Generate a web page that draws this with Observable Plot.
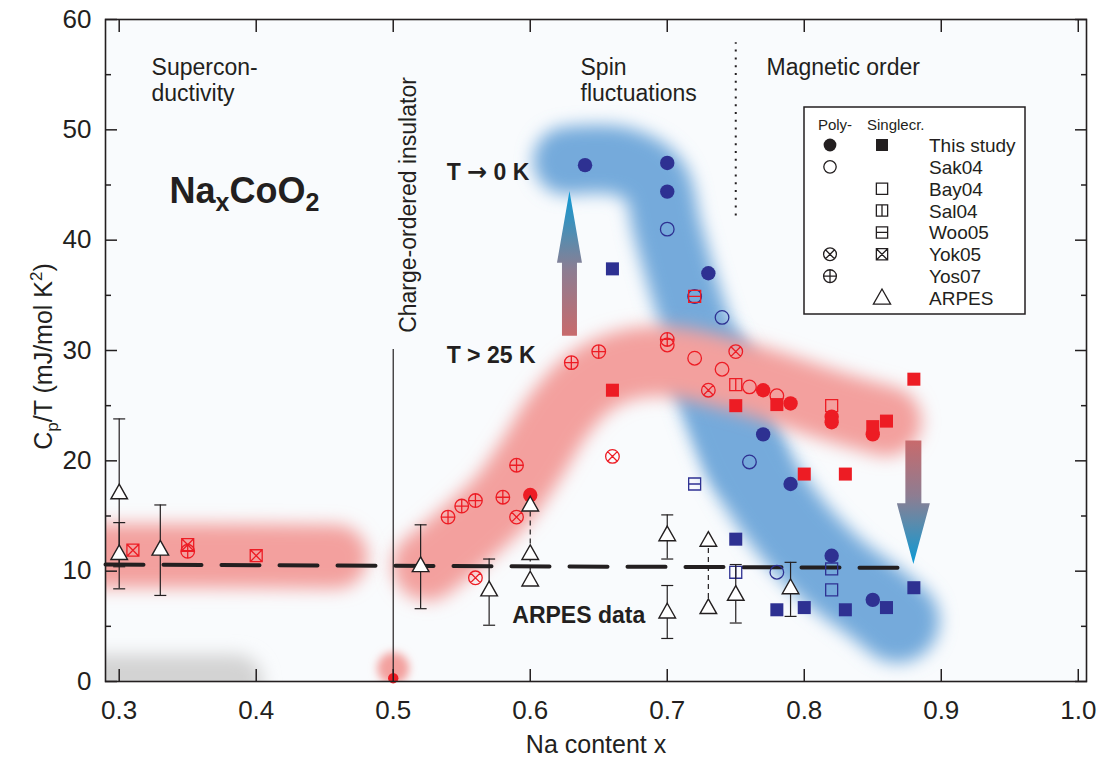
<!DOCTYPE html>
<html><head><meta charset="utf-8">
<script src="https://cdn.jsdelivr.net/npm/d3@7"></script>
<script src="https://cdn.jsdelivr.net/npm/@observablehq/plot@0.6"></script>
<style>
body{margin:0;background:#fff;font-family:"Liberation Sans",Arial,Helvetica,sans-serif;}
#wrap{position:relative;width:1102px;height:765px;overflow:hidden;}
</style></head><body><div id="wrap"></div>
<script>
// ---------- axes ----------
const xTicks = [0.3, 0.4, 0.5, 0.6, 0.7, 0.8, 0.9, 1.0];
const yTicks = [0, 10, 20, 30, 40, 50, 60];
const yMinorTicks = [5, 15, 25, 35, 45, 55];

// ---------- shaded bands (centre lines) ----------
const greyBand = [[0.26, 0], [0.385, 0]];
const chargeOrderBlob = [[0.5, 1.2]];
const redBandLeft = [[0.26, 11.4], [0.36, 11.4], [0.458, 11.3]];
const redBandRight = [[0.525, 10.5], [0.55, 13], [0.58, 16.5], [0.60, 20], [0.62, 24], [0.64, 26.8], [0.665, 28.5], [0.70, 29], [0.757, 27.5], [0.82, 25], [0.86, 23.6]];
const blueBandUpper = [[0.627, 47.2], [0.665, 47.2], [0.69, 45.5], [0.700, 41], [0.714, 35], [0.732, 28.5], [0.758, 20]];
const blueBandLower = [[0.732, 28.5], [0.758, 20], [0.79, 14], [0.821, 10], [0.85, 7.3], [0.868, 5.5]];

// ---------- lines ----------
const chargeOrderLine = [[0.5, 0, 30.1]];
const magneticBoundary = [[0.75, 42.2, 57.9]];
const arpesAverage = [[0.29, 10.6], [0.872, 10.3]];

// ---------- data points (x, Cp/T) ----------
const thisStudyPolyLowT = [[0.64, 46.8], [0.70, 47.0], [0.70, 44.4], [0.73, 37.0], [0.77, 22.4], [0.79, 17.9], [0.82, 11.4], [0.85, 7.4]];
const thisStudyPolyHighT = [[0.60, 16.9], [0.77, 26.4], [0.79, 25.2], [0.82, 24.0], [0.82, 23.5], [0.85, 22.4]];
const thisStudyPolyChargeOrder = [[0.50, 0.3]];
const thisStudySingleLowT = [[0.66, 37.4], [0.75, 12.9], [0.78, 6.5], [0.80, 6.7], [0.83, 6.5], [0.86, 6.7], [0.88, 8.5]];
const thisStudySingleHighT = [[0.66, 26.4], [0.75, 25.0], [0.78, 25.1], [0.80, 18.8], [0.83, 18.8], [0.85, 23.1], [0.86, 23.6], [0.88, 27.4]];
const sak04LowT = [[0.70, 41.0], [0.72, 34.9], [0.74, 33.0], [0.76, 19.9], [0.78, 9.9]];
const sak04HighT = [[0.70, 30.5], [0.72, 29.3], [0.74, 28.3], [0.76, 26.7], [0.78, 25.9]];
const bay04LowT = [[0.82, 10.2], [0.82, 8.3]];
const bay04HighT = [[0.82, 25.0]];
const sal04LowT = [[0.75, 9.9]];
const sal04HighT = [[0.75, 26.9]];
const woo05LowT = [[0.72, 17.9]];
const woo05HighT = [[0.72, 34.9]];
const yok05PolyHighT = [[0.56, 9.4], [0.59, 14.9], [0.66, 20.4], [0.73, 26.4], [0.75, 29.9]];
const yok05SingleHighT = [[0.31, 11.9], [0.35, 12.4], [0.40, 11.4]];
const yos07HighT = [[0.35, 11.8], [0.54, 14.9], [0.55, 15.9], [0.56, 16.4], [0.58, 16.7], [0.59, 19.6], [0.63, 28.9], [0.65, 29.9], [0.70, 31.0]];
const arpesPoints = [[0.30, 17.1], [0.30, 11.6], [0.33, 12.0], [0.52, 10.5], [0.57, 8.3], [0.60, 16.0], [0.60, 11.6], [0.60, 9.2], [0.70, 13.3], [0.70, 6.3], [0.73, 12.8], [0.73, 6.7], [0.75, 7.9], [0.79, 8.5]];
const arpesErrors = [[0.30, 10.4, 23.8], [0.30, 8.4, 14.4], [0.33, 7.8, 16.0], [0.52, 6.6, 14.2], [0.57, 5.1, 11.1], [0.70, 11.1, 15.1], [0.70, 3.9, 8.7], [0.75, 5.3, 10.6], [0.79, 5.9, 10.8]];
const arpesLinks = [[0.60, 9.2, 16.0], [0.73, 6.7, 12.8]];

// ---------- arrows (x, tail, head base, tip) ----------
const arrowData = [[0.629, 31.3, 37.9, 44.4], [0.88, 21.8, 16.1, 10.6]];
const arrowStyle = [{shaft: 7.5, head: 12.5}, {shaft: 8, head: 16.5}];

// ---------- text ----------
const regionLabels = [
  {x: 0.3236, y: 56.6, t: "Supercon-\nductivity"},
  {x: 0.6367, y: 56.6, t: "Spin\nfluctuations"},
  {x: 0.7725, y: 56.6, t: "Magnetic order"}
];
const lowTLabel = [{x: 0.539, y: 46.15, t: "T \u2192 0 K"}];
const boldLabels = [
  {x: 0.539, y: 29.5, t: "T > 25 K"},
  {x: 0.5869, y: 6.0, t: "ARPES data"}
];
const rotatedLabels = [{x: 0.5115, y: 31.6, t: "Charge-ordered insulator"}];
const formulaLabel = [{x: 0.3367, y: 43.34, t: "NaxCoO2"}];

// ---------- legend ----------
const legendRows = ["This study", "Sak04", "Bay04", "Sal04", "Woo05", "Yok05", "Yos07", "ARPES"];
const legendPoly = ["filledCircle", "openCircle", null, null, null, "circleX", "circlePlus", null];
const legendSingle = ["filledSquare", null, "openSquare", "squareV", "squareH", "squareX", null, "triangle"];

// ---------- symbols ----------
const RED = "#ed1c24", BLUE = "#2e3192", INK = "#231f20";
function sym(fn) { return {draw(c, size) { fn(c, Math.sqrt(size / Math.PI)); }}; }
const symCircle = sym((c, r) => { c.moveTo(r, 0); c.arc(0, 0, r, 0, 2 * Math.PI); });
const symSquare = sym((c, r) => { const s = r * 0.88; c.rect(-s, -s, 2 * s, 2 * s); });
const symCircleX = sym((c, r) => { c.moveTo(r, 0); c.arc(0, 0, r, 0, 2 * Math.PI); const d = r * 0.707; c.moveTo(-d, -d); c.lineTo(d, d); c.moveTo(-d, d); c.lineTo(d, -d); });
const symCirclePlus = sym((c, r) => { c.moveTo(r, 0); c.arc(0, 0, r, 0, 2 * Math.PI); c.moveTo(-r, 0); c.lineTo(r, 0); c.moveTo(0, -r); c.lineTo(0, r); });
const symSquareX = sym((c, r) => { const s = r * 0.88; c.rect(-s, -s, 2 * s, 2 * s); c.moveTo(-s, -s); c.lineTo(s, s); c.moveTo(-s, s); c.lineTo(s, -s); });
const symSquareV = sym((c, r) => { const s = r * 0.88; c.rect(-s, -s, 2 * s, 2 * s); c.moveTo(0, -s); c.lineTo(0, s); });
const symSquareH = sym((c, r) => { const s = r * 0.88; c.rect(-s, -s, 2 * s, 2 * s); c.moveTo(-s, 0); c.lineTo(s, 0); });
const symTriangle = sym((c, r) => { c.moveTo(0, -r * 1.05); c.lineTo(r, r * 0.72); c.lineTo(-r, r * 0.72); c.closePath(); });
const symCap = sym((c, r) => { c.moveTo(-r, 0); c.lineTo(r, 0); });

const X = d => d[0], Y = d => d[1];
const filled = (data, symbol, color, r) => Plot.dot(data, {x: X, y: Y, symbol, r, fill: color, stroke: "none"});
const open = (data, symbol, color, r) => Plot.dot(data, {x: X, y: Y, symbol, r, fill: "none", stroke: color, strokeWidth: 1.3});
const bandLine = (data, color, w, tag, clip) => Plot.line(data, {x: X, y: Y, stroke: color, strokeWidth: w, curve: "catmull-rom", strokeLinecap: "round", strokeLinejoin: "round", clip: !!clip, ariaDescription: tag});
const fmt = d3.format(".1f");
const FONT = '"Liberation Sans", Arial, Helvetica, sans-serif';

const plot = Plot.plot({
  width: 1102, height: 765,
  marginLeft: 105, marginRight: 16, marginTop: 19, marginBottom: 84,
  x: {domain: [0.29, 1.006]},
  y: {domain: [0, 60]},
  style: {fontFamily: FONT, fontSize: "23px", color: INK, background: "#ffffff", overflow: "visible"},
  marks: [
    Plot.frame({fill: "#f9fbfd", stroke: "none"}),
    bandLine(greyBand, "#d3d3d3", 54, "soft-grey", true),
    Plot.dot(chargeOrderBlob, {x: X, y: Y, r: 16, fill: "#f3a09e", clip: true, ariaDescription: "soft-blob"}),
    bandLine(blueBandUpper, "#74aadb", 68, "soft-blue1"),
    bandLine(blueBandLower, "#74aadb", 84, "soft-blue2"),
    bandLine(redBandLeft, "#f3a09e", 64, "soft-red1", true),
    bandLine(redBandRight, "#f3a09e", 70, "soft-red2"),
    Plot.ruleX(chargeOrderLine, {x: X, y1: d => d[1], y2: d => d[2], stroke: INK, strokeWidth: 1.2}),
    Plot.ruleX(magneticBoundary, {x: X, y1: d => d[1], y2: d => d[2], stroke: INK, strokeWidth: 2, strokeDasharray: "2,5.8"}),
    Plot.line(arpesAverage, {x: X, y: Y, stroke: INK, strokeWidth: 4, strokeDasharray: "38,20"}),
    // low-T (blue)
    open(sak04LowT, symCircle, BLUE, 6.8),
    open(bay04LowT, symSquare, BLUE, 6.8),
    open(sal04LowT, symSquareV, BLUE, 6.8),
    open(woo05LowT, symSquareH, BLUE, 6.8),
    filled(thisStudyPolyLowT, symCircle, BLUE, 7.2),
    filled(thisStudySingleLowT, symSquare, BLUE, 7.4),
    // high-T (red)
    open(sak04HighT, symCircle, RED, 6.8),
    open(bay04HighT, symSquare, RED, 6.8),
    open(sal04HighT, symSquareV, RED, 6.8),
    open(woo05HighT, symSquareH, RED, 6.8),
    open(yok05PolyHighT, symCircleX, RED, 6.8),
    open(yok05SingleHighT, symSquareX, RED, 6.8),
    open(yos07HighT, symCirclePlus, RED, 6.8),
    filled(thisStudyPolyHighT, symCircle, RED, 7.2),
    filled(thisStudySingleHighT, symSquare, RED, 7.4),
    filled(thisStudyPolyChargeOrder, symCircle, RED, 5.2),
    // ARPES
    Plot.ruleX(arpesLinks, {x: X, y1: d => d[1], y2: d => d[2], stroke: INK, strokeWidth: 1.2, strokeDasharray: "5,4"}),
    Plot.ruleX(arpesErrors, {x: X, y1: d => d[1], y2: d => d[2], stroke: INK, strokeWidth: 1.2}),
    Plot.dot(arpesErrors, {x: X, y: d => d[1], symbol: symCap, r: 6, stroke: INK, strokeWidth: 1.2, fill: "none"}),
    Plot.dot(arpesErrors, {x: X, y: d => d[2], symbol: symCap, r: 6, stroke: INK, strokeWidth: 1.2, fill: "none"}),
    Plot.dot(arpesPoints, {x: X, y: Y, symbol: symTriangle, r: 8.3, fill: "white", stroke: INK, strokeWidth: 1.4}),
    // text
    Plot.text(regionLabels, {x: "x", y: "y", text: "t", textAnchor: "start", lineAnchor: "top", lineHeight: 1.13, fontSize: 23, fill: INK}),
    Plot.text(lowTLabel, {x: "x", y: "y", text: "t", textAnchor: "start", lineAnchor: "middle", fontSize: 23, fontWeight: "bold", fill: INK, ariaDescription: "lowT"}),
    Plot.text(boldLabels, {x: "x", y: "y", text: "t", textAnchor: "start", lineAnchor: "middle", fontSize: 23, fontWeight: "bold", fill: INK}),
    Plot.text(rotatedLabels, {x: "x", y: "y", text: "t", textAnchor: "start", lineAnchor: "middle", rotate: -90, fontSize: 23, fill: INK}),
    Plot.text(formulaLabel, {x: "x", y: "y", text: "t", textAnchor: "start", lineAnchor: "bottom", fontSize: 36, fontWeight: "bold", fill: INK, ariaDescription: "formula"}),
    Plot.text(["Na content x"], {text: d => d, frameAnchor: "bottom", textAnchor: "middle", lineAnchor: "bottom", dy: 71, fontSize: 25, fill: INK}),
    Plot.text(["Cp/T (mJ/mol K2)"], {text: d => d, frameAnchor: "left", textAnchor: "middle", dx: -62, dy: 6, rotate: -90, fontSize: 25, fill: INK, ariaDescription: "ylabel"}),
    // frame & axes
    Plot.frame({stroke: INK, strokeWidth: 1.6}),
    Plot.axisX({anchor: "bottom", ticks: xTicks, tickFormat: fmt, tickSize: 0, tickPadding: 19, fontSize: 26, label: null}),
    Plot.axisX({anchor: "bottom", ticks: xTicks, tickSize: -12, fill: "none", label: null, strokeWidth: 1.5}),
    Plot.axisX({anchor: "top", ticks: xTicks, tickSize: -12, fill: "none", label: null, strokeWidth: 1.5}),
    Plot.axisY({anchor: "left", ticks: yTicks, tickSize: 0, tickPadding: 14, fontSize: 26, label: null}),
    Plot.axisY({anchor: "left", ticks: yTicks, tickSize: -12, fill: "none", label: null, strokeWidth: 1.5}),
    Plot.axisY({anchor: "left", ticks: yMinorTicks, tickSize: -6, fill: "none", label: null, strokeWidth: 1.5}),
    Plot.axisY({anchor: "right", ticks: yTicks, tickSize: -12, fill: "none", label: null, strokeWidth: 1.5}),
    Plot.axisY({anchor: "right", ticks: yMinorTicks, tickSize: -6, fill: "none", label: null, strokeWidth: 1.5})
  ]
});

const wrap = document.getElementById("wrap");
wrap.appendChild(plot);

// ---------- post-processing: soft bands, rich text, gradient arrows ----------
const svg = d3.select(plot);
const defs = svg.insert("defs", ":first-child");
defs.append("filter").attr("id", "soft").attr("filterUnits", "userSpaceOnUse")
  .attr("x", 0).attr("y", 0).attr("width", 1102).attr("height", 765)
  .append("feGaussianBlur").attr("stdDeviation", 8.5);
defs.append("filter").attr("id", "softSmall").attr("filterUnits", "userSpaceOnUse")
  .attr("x", 0).attr("y", 0).attr("width", 1102).attr("height", 765)
  .append("feGaussianBlur").attr("stdDeviation", 4.5);
svg.selectAll('g[aria-description^="soft-grey"],g[aria-description^="soft-blue"],g[aria-description^="soft-red"]').attr("filter", "url(#soft)");
svg.selectAll('g[aria-description="soft-blob"]').attr("filter", "url(#softSmall)");

function rich(selector, parts) {
  svg.selectAll(selector).each(function () {
    const t = d3.select(this);
    t.text(null);
    parts.forEach(([s, size, dy, family]) => {
      const ts = t.append("tspan").text(s);
      if (size) ts.attr("font-size", size);
      if (dy) ts.attr("dy", dy);
      if (family) ts.attr("font-family", family);
    });
  });
}
rich('g[aria-description="formula"] text', [["Na"], ["x", 25, 8], ["CoO", null, -8], ["2", 25, 8]]);
rich('g[aria-description="ylabel"] text', [["C"], ["p", 17, 6], ["/T (mJ/mol K", null, -6], ["2", 17, -10], [")", null, 10]]);
rich('g[aria-description="lowT"] text', [["T "], ["\u2192", 24, null, '"DejaVu Sans", sans-serif'], [" 0 K"]]);

const sx = plot.scale("x"), sy = plot.scale("y");
const gradStops = [[0, "#c86a6c"], [0.45, "#8d7d92"], [0.65, "#5f8aaa"], [1, "#0a9ad6"]];
arrowData.forEach(([x, tail, base, tip], i) => {
  const {shaft, head} = arrowStyle[i];
  const px = sx.apply(x), T = sy.apply(tail), B = sy.apply(base), P = sy.apply(tip);
  const up = P < T;
  const g = defs.append("linearGradient").attr("id", "arrowGrad" + i)
    .attr("x1", 0).attr("x2", 0).attr("y1", up ? 1 : 0).attr("y2", up ? 0 : 1);
  gradStops.forEach(([o, c]) => g.append("stop").attr("offset", o).attr("stop-color", c));
  svg.append("path")
    .attr("d", `M${px - shaft},${T}L${px - shaft},${B}L${px - head},${B}L${px},${P}L${px + head},${B}L${px + shaft},${B}L${px + shaft},${T}Z`)
    .attr("fill", `url(#arrowGrad${i})`);
});

// ---------- legend ----------
const symbolKinds = {
  filledCircle: [symCircle, true, 6.4],
  openCircle: [symCircle, false, 6.2],
  filledSquare: [symSquare, true, 6.8],
  openSquare: [symSquare, false, 6.4],
  squareV: [symSquareV, false, 6.4],
  squareH: [symSquareH, false, 6.4],
  squareX: [symSquareX, false, 6.4],
  circleX: [symCircleX, false, 6.4],
  circlePlus: [symCirclePlus, false, 6.4],
  triangle: [symTriangle, false, 8.6]
};
const lg = d3.create("svg").attr("width", 224).attr("height", 210)
  .style("position", "absolute").style("left", "803px").style("top", "106px")
  .style("font-family", FONT);
lg.append("rect").attr("x", 1).attr("y", 1).attr("width", 221).attr("height", 207)
  .attr("fill", "#ffffff").attr("stroke", INK).attr("stroke-width", 1.5);
lg.append("text").attr("x", 32).attr("y", 24).attr("text-anchor", "middle").attr("font-size", 15).attr("fill", INK).text("Poly-");
lg.append("text").attr("x", 64).attr("y", 24).attr("font-size", 15).attr("fill", INK).text("Singlecr.");
function legendSymbol(kind, cx, cy) {
  if (!kind) return;
  const [s, isFilled, r] = symbolKinds[kind];
  const p = d3.path();
  s.draw(p, Math.PI * r * r);
  lg.append("path").attr("d", p.toString()).attr("transform", `translate(${cx},${cy})`)
    .attr("fill", isFilled ? INK : (kind === "triangle" ? "#ffffff" : "none"))
    .attr("stroke", isFilled ? "none" : INK).attr("stroke-width", 1.3);
}
legendRows.forEach((name, i) => {
  const cy = 39 + i * 21.86;
  legendSymbol(legendPoly[i], 27, cy);
  legendSymbol(legendSingle[i], 79, cy);
  lg.append("text").attr("x", 126).attr("y", cy + 7).attr("font-size", 19).attr("fill", INK).text(name);
});
wrap.appendChild(lg.node());
</script>
</body></html>
